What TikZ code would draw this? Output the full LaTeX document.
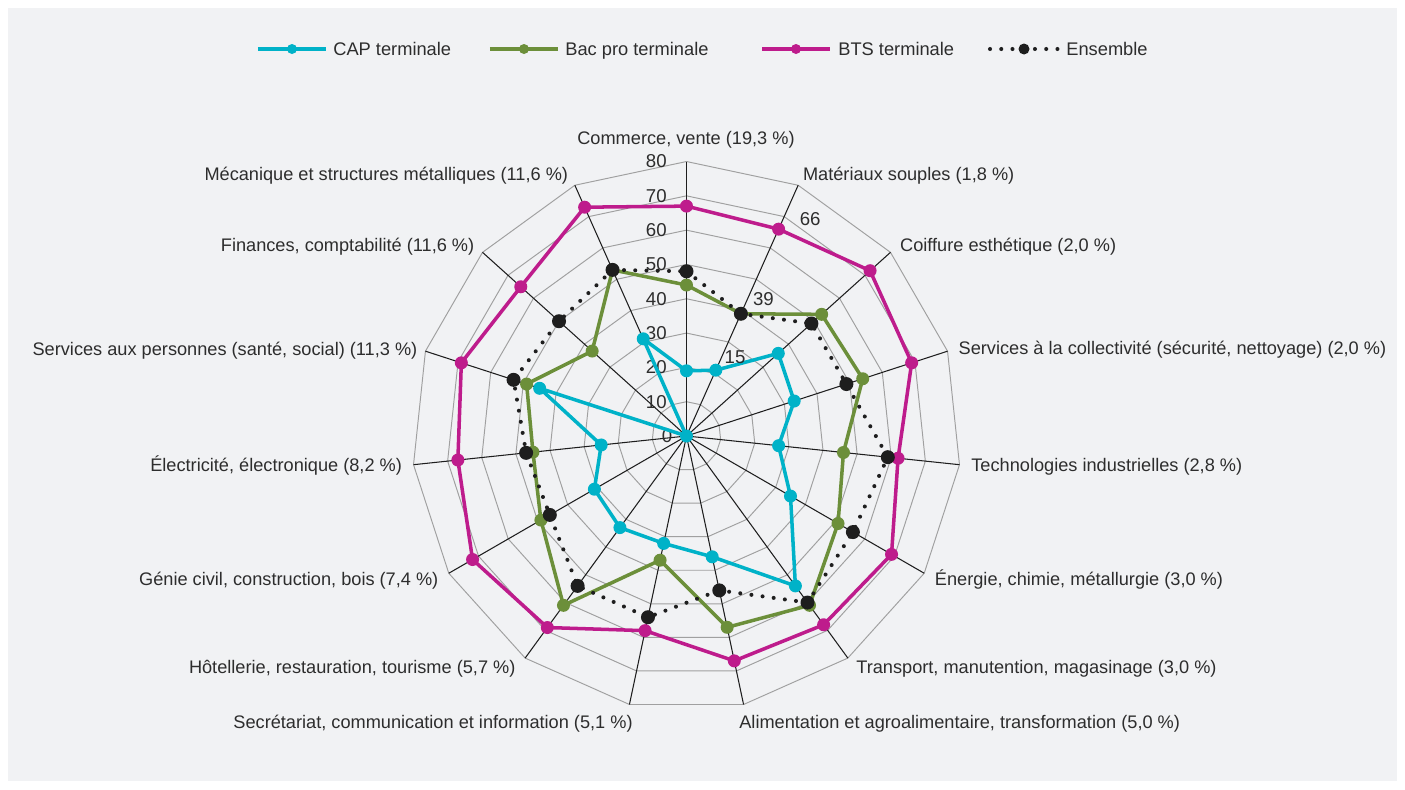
\documentclass[tikz,border=0pt]{standalone}
\usepackage{fontspec}
\setmainfont{Liberation Sans}
\usepackage{tikz}
\usetikzlibrary{positioning, calc}
\definecolor{capcolor}{RGB}{0, 178, 200}
\definecolor{baccolor}{RGB}{108, 143, 58}
\definecolor{btscolor}{RGB}{190, 28, 140}
\definecolor{enscolor}{RGB}{30, 30, 30}
\definecolor{bgcolor}{RGB}{241, 242, 244}
\definecolor{ringcolor}{RGB}{160, 160, 160}
\definecolor{textcolor}{RGB}{45, 45, 45}

% one value unit of the radar, in picture units
\def\ru{3.431}

\tikzset{
  ringline/.style={draw=ringcolor, line width=0.55pt},
  spokeline/.style={draw=enscolor, line width=0.6pt},
  axisnum/.style={font=\fontsize{10.6}{12}\selectfont, text=textcolor, inner sep=0pt},
  catlabel/.style={font=\fontsize{10.35}{12}\selectfont, text=textcolor, inner sep=0pt},
  legtext/.style={font=\fontsize{10.4}{12}\selectfont, text=textcolor, inner sep=0pt, anchor=base west},
  capline/.style={draw=capcolor, line width=2pt, line join=round},
  bacline/.style={draw=baccolor, line width=2pt, line join=round},
  btsline/.style={draw=btscolor, line width=2pt, line join=round},
  ensline/.style={draw=enscolor, line width=2.3pt, line cap=round, dash pattern=on 0pt off 6.4pt},
}

\def\capdata{19,21,36,33,27,35,54,36,32,33,31,25,45,0,31}
\def\bacdata{44,39,53,54,46,51,61,57,37,61,49,45,49,37,53}
\def\btsdata{67,66,72,69,62,69,68,67,58,69,72,67,69,65,73}
\def\ensdata{48,39,49,49,59,56,60,46,54,54,46,47,53,50,53}

\begin{document}
\begin{tikzpicture}[x=0.02cm, y=0.02cm]
        % Background
        \fill[white] (-686.5,436) rectangle (718.5,-353);
        \fill[bgcolor] (-678.5,428) rectangle (710.5,-345);

        % Rings
        \foreach \v in {10,20,...,80}
          \draw[ringline] (90:{\v*\ru}) \foreach \k in {1,...,14}{ -- (90-24*\k:{\v*\ru})} -- cycle;

        % Spokes
        \coordinate (o) at (0,0);
        \foreach \k in {0,...,14}{
          \coordinate (ax-\k) at (90-24*\k:{80*\ru});
          \draw[spokeline] (o) -- (ax-\k);
        }

        % Axis values
        \foreach \v in {10,20,...,80}
          \node[axisnum, anchor=east] (num-\v) at (-19.5,{\v*\ru}) {\v};
        \node[axisnum, anchor=east] (num-0) at (-14,0) {0};

        % Category labels
        \foreach \x/\y/\a/\t [count=\i from 0] in {
            -0.5/292/base/{Commerce, vente (19,3~\%)},
            116.2/255.3/base west/{Matériaux souples (1,8~\%)},
            213.3/185/base west/{Coiffure esthétique (2,0~\%)},
            271.8/82/base west/{Services à la collectivité (sécurité, nettoyage) (2,0~\%)},
            284.5/-35.7/base west/{Technologies industrielles (2,8~\%)},
            248.1/-149/base west/{Énergie, chimie, métallurgie (3,0~\%)},
            169.5/-237/base west/{Transport, manutention, magasinage (3,0~\%)},
            52.5/-292/base west/{Alimentation et agroalimentaire, transformation (5,0~\%)},
            -53.5/-292/base east/{Secrétariat, communication et information (5,1~\%)},
            -170.7/-237/base east/{Hôtellerie, restauration, tourisme (5,7~\%)},
            -247.8/-149/base east/{Génie civil, construction, bois (7,4~\%)},
            -284.2/-35.7/base east/{Électricité, électronique (8,2~\%)},
            -268.8/81/base east/{Services aux personnes (santé, social) (11,3~\%)},
            -211.9/185/base east/{Finances, comptabilité (11,6~\%)},
            -118.1/255.3/base east/{Mécanique et structures métalliques (11,6~\%)}}
          \node[catlabel, anchor=\a] (cat-\i) at (\x,\y) {\t};

        % Series points
        \foreach \v [count=\k from 0] in \capdata \coordinate (cap-\k) at (90-24*\k:{\v*\ru});
        \foreach \v [count=\k from 0] in \bacdata \coordinate (bac-\k) at (90-24*\k:{\v*\ru});
        \foreach \v [count=\k from 0] in \btsdata \coordinate (bts-\k) at (90-24*\k:{\v*\ru});
        \foreach \v [count=\k from 0] in \ensdata \coordinate (ens-\k) at (90-24*\k:{\v*\ru});

        % CAP terminale
        \draw[capline] (cap-0) \foreach \k in {1,...,14}{ -- (cap-\k)} -- cycle;
        \foreach \k in {0,...,14} \fill[capcolor] (cap-\k) circle (6.5);

        % Bac pro terminale
        \draw[bacline] (bac-0) \foreach \k in {1,...,14}{ -- (bac-\k)} -- cycle;
        \foreach \k in {0,...,14} \fill[baccolor] (bac-\k) circle (6.5);

        % BTS terminale
        \draw[btsline] (bts-0) \foreach \k in {1,...,14}{ -- (bts-\k)} -- cycle;
        \foreach \k in {0,...,14} \fill[btscolor] (bts-\k) circle (6.5);

        % Ensemble
        \draw[ensline] (ens-0) \foreach \k in {1,...,14}{ -- (ens-\k)} -- cycle;
        \foreach \k in {0,...,14} \fill[enscolor] (ens-\k) circle (7);

        % Values on Matériaux souples
        \node[axisnum, anchor=base west] (val-bts) at ($(bts-1)+(20.8,3.2)$) {66};
        \node[axisnum, anchor=base west] (val-ens) at ($(ens-1)+(11.8,7.8)$) {39};
        \node[axisnum, anchor=base west] (val-cap) at ($(cap-1)+(8.5,6.2)$) {15};

        % Legend
        \coordinate (capleg-a) at (-428.5,387);
        \coordinate (capleg-b) at (-360.5,387);
        \draw[capline] (capleg-a) -- (capleg-b);
        \fill[capcolor] ($(capleg-a)!0.5!(capleg-b)$) circle (5);
        \node[legtext] (capleg) at (-353.5,380.5) {CAP terminale};

        \coordinate (bacleg-a) at (-196.5,387);
        \coordinate (bacleg-b) at (-128.5,387);
        \draw[bacline] (bacleg-a) -- (bacleg-b);
        \fill[baccolor] ($(bacleg-a)!0.5!(bacleg-b)$) circle (5);
        \node[legtext] (bacleg) at (-121.5,380.5) {Bac pro terminale};

        \coordinate (btsleg-a) at (75.5,387);
        \coordinate (btsleg-b) at (143.5,387);
        \draw[btsline] (btsleg-a) -- (btsleg-b);
        \fill[btscolor] ($(btsleg-a)!0.5!(btsleg-b)$) circle (5);
        \node[legtext] (btsleg) at (151.5,380.5) {BTS terminale};

        \coordinate (ensleg-a) at (303.5,387);
        \coordinate (ensleg-b) at (371.5,387);
        \draw[ensline] (ensleg-a) -- (ensleg-b);
        \fill[enscolor] ($(ensleg-a)!0.5!(ensleg-b)$) circle (5.5);
        \node[legtext] (ensleg) at (379.5,380.5) {Ensemble};
    \end{tikzpicture}
\end{document}
